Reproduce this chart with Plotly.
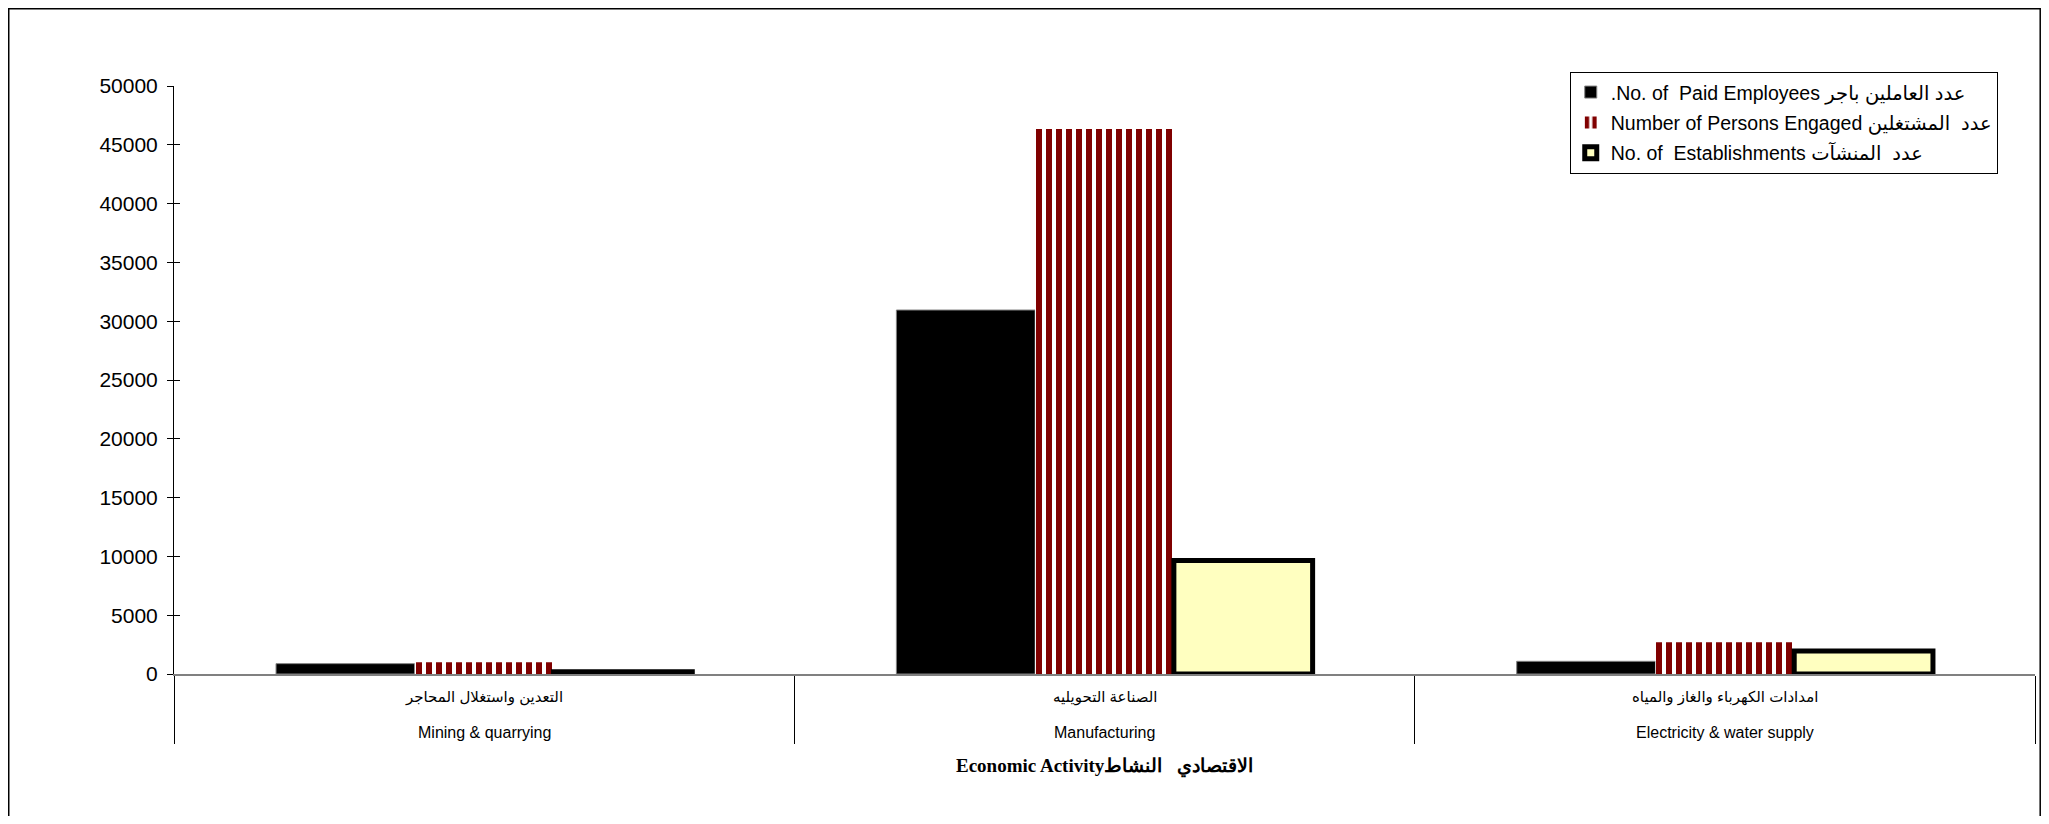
import plotly.graph_objects as go

categories = ["Mining & quarrying", "Manufacturing", "Electricity & water supply"]
categories_ar = ["التعدين واستغلال المحاجر", "الصناعة التحويليه", "امدادات الكهرباء والغاز والمياه"]
paid_employees = [880, 30950, 1080]
persons_engaged = [990, 46350, 2700]
establishments = [200, 9650, 1950]
series_names = [
    ".No. of  Paid Employees عدد العاملين باجر",
    "Number of Persons Engaged عدد  المشتغلين",
    "No. of  Establishments عدد  المنشآت",
]
y_ticks = list(range(0, 50001, 5000))
y_tick_labels = [str(v) for v in y_ticks]
axis_title = "Economic Activityالاقتصادي   النشاط"

SANS = "Arial, Liberation Sans, DejaVu Sans, sans-serif"
SERIF = "Times New Roman, Liberation Serif, DejaVu Serif, serif"

fig = go.Figure()
fig.add_trace(go.Bar(
    x=categories, y=paid_employees, name=series_names[0], legendgroup="g1",
    marker=dict(color="black", line=dict(color="#808080", width=1)),
))
fig.add_trace(go.Bar(
    x=categories, y=persons_engaged, name=series_names[1], legendgroup="g2",
    marker=dict(color="white", line=dict(width=0),
                pattern=dict(shape="|", fgcolor="#800000", bgcolor="white",
                             size=10, solidity=0.6, fgopacity=1)),
))
fig.add_trace(go.Bar(
    x=categories, y=establishments, name=series_names[2], legendgroup="g3",
    marker=dict(color="#FFFFC0", line=dict(color="black", width=5)),
))
# invisible trace on overlay axis to get crossing tick marks
fig.add_trace(go.Scatter(x=[categories[0]], y=[0], yaxis="y2", mode="markers",
                         marker=dict(opacity=0), showlegend=False, hoverinfo="skip"))

fig.update_layout(
    width=2033, height=808,
    margin=dict(l=166, r=6, t=78, b=142),
    paper_bgcolor="white", plot_bgcolor="white",
    barmode="group", bargap=0.329, bargroupgap=0,
    font=dict(family=SANS, color="black"),
    showlegend=True,
    legend=dict(x=0.75, y=1.024, xanchor="left", yanchor="top",
                bgcolor="white", bordercolor="black", borderwidth=1,
                font=dict(family=SANS, size=19.5, color="black"),
                tracegroupgap=2, itemwidth=30),
    xaxis=dict(
        type="category", showgrid=False, zeroline=False,
        showline=True, linecolor="#808080", linewidth=2,
        ticks="outside", tickson="boundaries", ticklen=68, tickcolor="black", tickwidth=1,
        showticklabels=False, range=[-0.5, 2.5],
    ),
    yaxis=dict(
        range=[0, 50000], tickvals=y_ticks, ticktext=y_tick_labels,
        showgrid=False, zeroline=False,
        showline=True, linecolor="black", linewidth=1,
        ticks="outside", ticklen=6, tickcolor="black",
        tickfont=dict(family=SANS, size=21, color="black"),
        ticklabelstandoff=5,
    ),
    yaxis2=dict(
        overlaying="y", range=[0, 50000], tickvals=y_ticks, showgrid=False, zeroline=False,
        showline=False, ticks="inside", ticklen=6, tickcolor="black",
        showticklabels=False, side="left",
    ),
)

for c, ar in zip(categories, categories_ar):
    fig.add_annotation(x=c, xref="x", y=0, yref="paper", yshift=-23, text=ar,
                       showarrow=False, yanchor="middle",
                       font=dict(family=SANS, size=15, color="black"))
    fig.add_annotation(x=c, xref="x", y=0, yref="paper", yshift=-58, text=c,
                       showarrow=False, yanchor="middle",
                       font=dict(family=SANS, size=16, color="black"))

fig.add_annotation(x=0.5, xref="paper", y=0, yref="paper", yshift=-92,
                   text="<b>" + axis_title + "</b>", showarrow=False, yanchor="middle",
                   font=dict(family=SERIF, size=19, color="black"))

# chart-area frame
fig.add_shape(type="rect", xref="paper", yref="paper",
              x0=-0.0888, x1=1.0028, y0=-0.5, y1=1.1314,
              line=dict(color="black", width=1.5), fillcolor="rgba(0,0,0,0)", layer="below")

fig.write_html("out.html")
